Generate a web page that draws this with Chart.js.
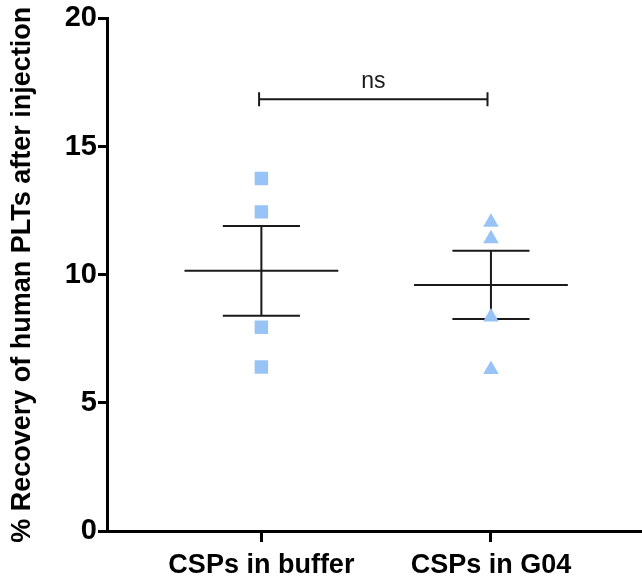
<!DOCTYPE html>
<html>
<head>
<meta charset="utf-8">
<script src="https://cdn.jsdelivr.net/npm/chart.js@4.4.1/dist/chart.umd.min.js"></script>
<style>
  html, body { margin: 0; padding: 0; background: #fff; overflow: hidden; }
  #wrap { width: 642px; height: 581px; position: relative; }
  canvas { display: block; }
</style>
</head>
<body>
<div id="wrap"><canvas id="scatterCanvas"></canvas></div>
<script>
// values
var categories = ['CSPs in buffer', 'CSPs in G04'];
var bufferValues = [13.75, 12.45, 7.95, 6.4];
var g04Values = [12.05, 11.4, 8.35, 6.3];
var means = [10.15, 9.6];
var sems = [1.75, 1.33];
var yTicks = [0, 5, 10, 15, 20];
var compareLabel = 'ns';
var compareHeight = 16.85;

var FONT = '"Liberation Sans", Arial, sans-serif';
var pointColor = '#98C3F7';

function toPoints(xPos, vals) {
  return vals.map(function (v) { return { x: xPos, y: v }; });
}

// mean +/- SEM bars and the ns bracket
var errorBars = {
  id: 'errorBars',
  beforeDatasetsDraw: function (chart) {
    var ctx = chart.ctx, xs = chart.scales.x, ys = chart.scales.y;
    ctx.save();
    ctx.strokeStyle = '#1a1a1a';
    ctx.lineWidth = 2;
    for (var i = 0; i < means.length; i++) {
      var c = i + 1;
      var ym = ys.getPixelForValue(means[i]);
      var yt = ys.getPixelForValue(means[i] + sems[i]);
      var yb = ys.getPixelForValue(means[i] - sems[i]);
      ctx.beginPath();
      ctx.moveTo(xs.getPixelForValue(c - 0.335), ym);
      ctx.lineTo(xs.getPixelForValue(c + 0.335), ym);
      ctx.moveTo(xs.getPixelForValue(c), yt);
      ctx.lineTo(xs.getPixelForValue(c), yb);
      ctx.moveTo(xs.getPixelForValue(c - 0.168), yt);
      ctx.lineTo(xs.getPixelForValue(c + 0.168), yt);
      ctx.moveTo(xs.getPixelForValue(c - 0.168), yb);
      ctx.lineTo(xs.getPixelForValue(c + 0.168), yb);
      ctx.stroke();
    }
    // bracket
    var by = ys.getPixelForValue(compareHeight);
    var x1 = xs.getPixelForValue(0.99), x2 = xs.getPixelForValue(1.985);
    ctx.beginPath();
    ctx.moveTo(x1, by); ctx.lineTo(x2, by);
    ctx.moveTo(x1, by - 7); ctx.lineTo(x1, by + 7);
    ctx.moveTo(x2, by - 7); ctx.lineTo(x2, by + 7);
    ctx.stroke();
    ctx.fillStyle = '#1a1a1a';
    ctx.font = '23px ' + FONT;
    ctx.textAlign = 'center';
    ctx.textBaseline = 'bottom';
    ctx.fillText(compareLabel, (x1 + x2) / 2, by - 6);
    ctx.restore();
  }
};

var myChart = new Chart(document.getElementById('scatterCanvas'), {
  type: 'scatter',
  data: {
    datasets: [{
      label: categories[0],
      data: toPoints(1, bufferValues),
      pointStyle: 'rect',
      pointRadius: 9.5,
      pointHoverRadius: 9.5,
      backgroundColor: pointColor,
      borderWidth: 0
    }, {
      label: categories[1],
      data: toPoints(2, g04Values),
      pointStyle: 'triangle',
      pointRadius: 9,
      pointHoverRadius: 9,
      backgroundColor: pointColor,
      borderWidth: 0
    }]
  },
  options: {
    responsive: true,
    maintainAspectRatio: false,
    animation: false,
    layout: { autoPadding: false, padding: { top: 5, left: 6, right: 0, bottom: 0 } },
    plugins: { legend: { display: false }, tooltip: { enabled: false } },
    scales: {
      x: {
        type: 'linear',
        min: 0.3275,
        max: 2.658,
        afterBuildTicks: function (s) { s.ticks = [{ value: 1 }, { value: 2 }]; },
        afterFit: function (s) { s.height = 50; s.paddingLeft = 0; s.paddingRight = 0; },
        ticks: {
          color: '#000',
          padding: 7,
          font: { family: FONT, size: 27, weight: 'bold' },
          callback: function (v) { return categories[v - 1]; }
        },
        grid: { drawOnChartArea: false, drawTicks: true, tickLength: 11, color: '#000', lineWidth: 3 },
        border: { color: '#000', width: 3 }
      },
      y: {
        min: 0,
        max: 20,
        afterBuildTicks: function (s) { s.ticks = yTicks.map(function (v) { return { value: v }; }); },
        afterFit: function (s) { s.width = 101; },
        ticks: {
          color: '#000',
          padding: 1,
          font: { family: FONT, size: 29, weight: 'bold' }
        },
        grid: { drawOnChartArea: false, drawTicks: true, tickLength: 9, color: '#000', lineWidth: 3 },
        border: { color: '#000', width: 3 },
        title: {
          display: true,
          text: '% Recovery of human PLTs after injection',
          color: '#000',
          padding: 0,
          font: { family: FONT, size: 27, weight: 'bold' }
        }
      }
    }
  },
  plugins: [errorBars]
});
</script>
</body>
</html>
